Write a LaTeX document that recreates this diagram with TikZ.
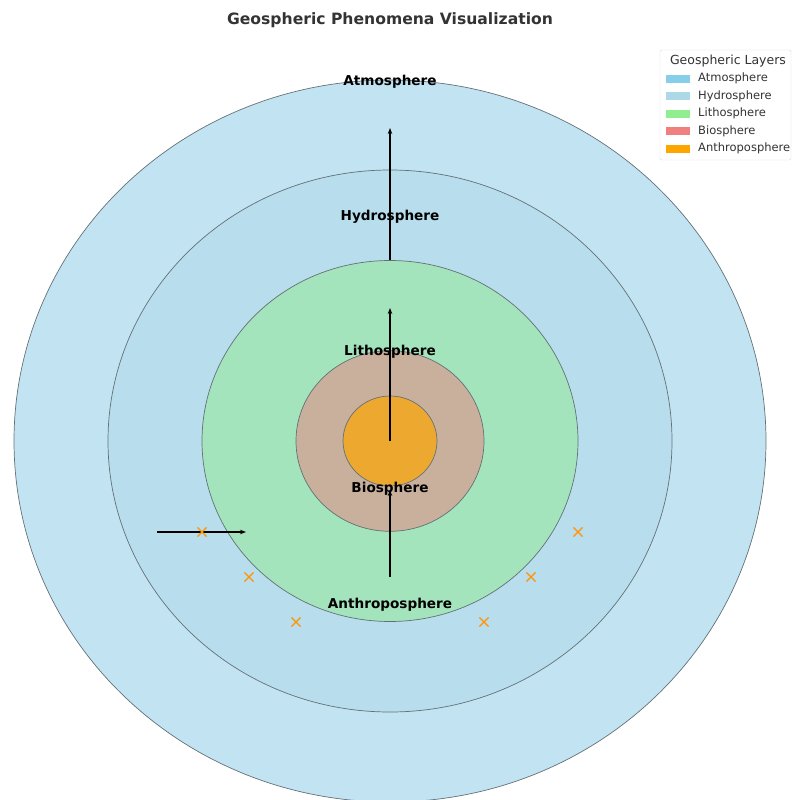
\documentclass[tikz,border=0pt]{standalone}
\usepackage{fontspec}
\setmainfont{DejaVu Sans}
\usetikzlibrary{arrows.meta,shapes.misc}
% layer colours (as blended on the page)
\definecolor{atmoFill}{RGB}{194,228,242}
\definecolor{hydroFill}{RGB}{184,221,236}
\definecolor{lithoFill}{RGB}{163,228,188}
\definecolor{bioFill}{RGB}{201,176,157}
\definecolor{anthroFill}{RGB}{237,168,48}
\definecolor{edgeGray}{RGB}{100,112,118}
\definecolor{titleGray}{RGB}{51,51,51}
\tikzset{
  layer/.style={draw=edgeGray, line width=0.7pt},
  layername/.style={font=\bfseries\fontsize{13.6}{15}\selectfont, inner sep=1pt},
  flow/.style={line width=1.1pt, -{Stealth[length=6pt, width=4.5pt]}},
  event/.style={cross out, draw=orange!85!yellow, line width=1.1pt, minimum size=8pt, inner sep=0pt},
  legendtext/.style={anchor=west, font=\fontsize{11.5}{13}\selectfont, text=titleGray, inner sep=0pt}
}
\begin{document}
\begin{tikzpicture}[x=1pt, y=-1pt]
\useasboundingbox (0,0) rectangle (792,800);
\clip (0,0) rectangle (792,800);
%
\coordinate (core) at (390,441);
\draw [layer, fill=atmoFill] (core) ellipse [x radius=376, y radius=361];
\draw [layer, fill=hydroFill] (core) ellipse [x radius=282, y radius=271];
\draw [layer, fill=lithoFill] (core) ellipse [x radius=188, y radius=180.5];
\draw [layer, fill=bioFill] (core) ellipse [x radius=94, y radius=90.3];
\draw [layer, fill=anthroFill] (core) ellipse [x radius=47, y radius=45];
%
\node [layername] (atmo) at (390,82) {Atmosphere};
\node [layername] (hydro) at (390,217) {Hydrosphere};
\node [layername] (litho) at (390,352) {Lithosphere};
\node [layername] (bio) at (390,489) {Biosphere};
\node [layername] (anthro) at (390,605) {Anthroposphere};
%
\coordinate (upA) at (390,308);
\coordinate (upB0) at (390,260);
\coordinate (upB) at (390,128);
\coordinate (upC0) at (390,577);
\coordinate (upC) at (390,490);
\coordinate (side0) at (157,532);
\coordinate (side) at (246,532);
\draw [flow] (core) -- (upA);
\draw [flow] (upB0) -- (upB);
\draw [flow] (upC0) -- (upC);
\draw [flow] (side0) -- (side);
%
\foreach \i/\px/\py in {1/202/532, 2/249/577, 3/296/622, 4/484/622, 5/531/577, 6/578/532}
  \node [event] (ev\i) at (\px,\py) {};
%
\node [font=\bfseries\fontsize{15.6}{18}\selectfont, text=titleGray] (title) at (390,20) {Geospheric Phenomena Visualization};
%
% legend
\draw [draw=black!15, fill=white, rounded corners=2pt] (660,50) rectangle (791,160);
\node [font=\fontsize{12.5}{14}\selectfont, text=titleGray] (legtitle) at (728,61) {Geospheric Layers};
\foreach \i/\name/\col in {0/Atmosphere/{rgb,255:red,135;green,206;blue,235},
                           1/Hydrosphere/{rgb,255:red,173;green,216;blue,230},
                           2/Lithosphere/{rgb,255:red,144;green,238;blue,144},
                           3/Biosphere/{rgb,255:red,240;green,128;blue,128},
                           4/Anthroposphere/{rgb,255:red,255;green,165;blue,0}} {
  \fill [color=\col] (666,74.5+17.5*\i) rectangle (690,82.5+17.5*\i);
  \node [legendtext] (leg\i) at (698,78.5+17.5*\i) {\name};
}
\end{tikzpicture}
\end{document}
